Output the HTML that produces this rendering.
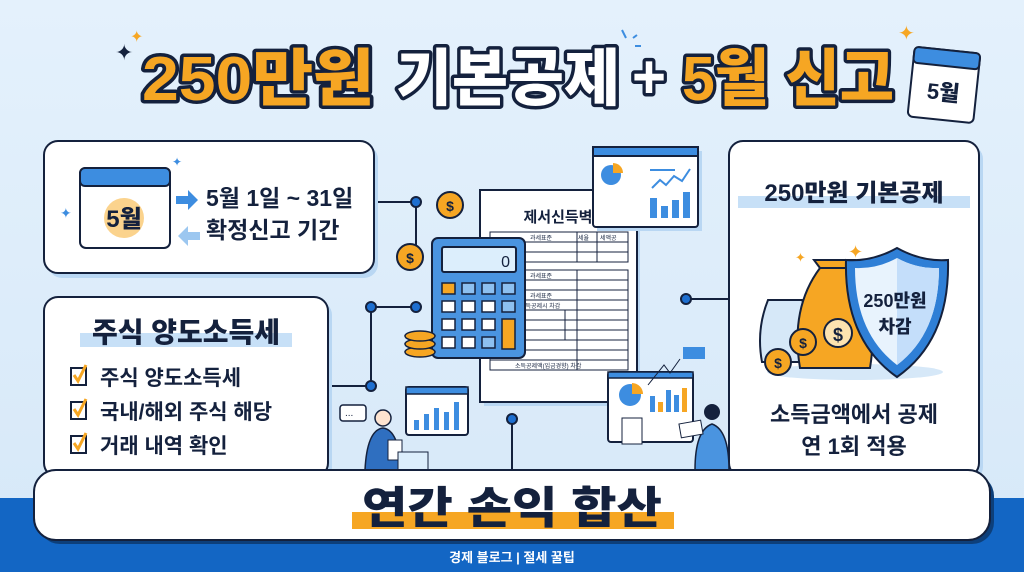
<!DOCTYPE html>
<html><head><meta charset="utf-8"><style>
body{margin:0;width:1024px;height:572px;overflow:hidden;background:#dcecfa;font-family:"Liberation Sans","Noto Sans CJK KR",sans-serif;}
</style></head><body>
<svg width="1024" height="572" viewBox="0 0 1024 572" xmlns="http://www.w3.org/2000/svg" style="position:absolute;left:0;top:0;font-family:'Liberation Sans','Noto Sans CJK KR',sans-serif">
<defs><linearGradient id="bg" x1="0" y1="0" x2="0" y2="1"><stop offset="0" stop-color="#e4f1fc"/><stop offset="1" stop-color="#d6e8f8"/></linearGradient></defs>
<rect width="1024" height="572" fill="url(#bg)"/>
<rect y="498" width="1024" height="74" fill="#1366c4"/>
<!-- Title -->
<g font-size="62" font-weight="900" stroke="#14213d" stroke-width="7" paint-order="stroke" stroke-linejoin="round" lengthAdjust="spacingAndGlyphs">
<text x="142" y="100" fill="#f6a623" textLength="232" lengthAdjust="spacingAndGlyphs">250만원</text>
<text x="396" y="100" fill="#ffffff" textLength="224" lengthAdjust="spacingAndGlyphs">기본공제</text>
<text x="632" y="98" fill="#ffffff" textLength="34" lengthAdjust="spacingAndGlyphs">+</text>
<text x="682" y="100" fill="#f6a623" textLength="212" lengthAdjust="spacingAndGlyphs">5월 신고</text>
</g>
<text x="115" y="60" font-size="22" fill="#14213d">✦</text>
<text x="130" y="42" font-size="16" fill="#f6a623">✦</text>
<text x="898" y="40" font-size="20" fill="#f6a623">✦</text>
<path d="M622 30 l4 8 M633 38 l4 -3 M635 46 l6 0" stroke="#3d8de0" stroke-width="2"/>
<!-- top calendar -->
<g transform="rotate(6 945 75)">
<rect x="912" y="50" width="66" height="70" rx="5" fill="#fff" stroke="#14213d" stroke-width="2"/>
<rect x="912" y="50" width="66" height="16" rx="4" fill="#3d8de0" stroke="#14213d" stroke-width="2"/>
<text x="945" y="100" text-anchor="middle" font-size="22" font-weight="900" fill="#14213d">5월</text>
</g>
<!-- connectors -->
<g stroke="#14213d" stroke-width="2" fill="none">
<path d="M374 202 H416 V257"/><path d="M416 307 H371 V386 H328"/><path d="M686 299 H729"/><path d="M512 419 V470"/>
</g>
<g fill="#1e6fd0" stroke="#14213d" stroke-width="2"><circle cx="416" cy="202" r="5"/><circle cx="416" cy="307" r="5"/><circle cx="371" cy="307" r="5"/><circle cx="371" cy="386" r="5"/><circle cx="512" cy="419" r="5"/><circle cx="686" cy="299" r="5"/></g>
<!-- left box 1 -->
<rect x="48" y="145" width="330" height="133" rx="14" fill="#b9d7f3"/>
<rect x="44" y="141" width="330" height="132" rx="14" fill="#fff" stroke="#14213d" stroke-width="2"/>
<rect x="80" y="168" width="90" height="80" rx="6" fill="#fff" stroke="#14213d" stroke-width="2"/>
<rect x="80" y="168" width="90" height="18" rx="5" fill="#3d8de0" stroke="#14213d" stroke-width="2"/>
<circle cx="124" cy="218" r="20" fill="#fbd38d"/>
<text x="124" y="227" text-anchor="middle" font-size="24" font-weight="900" fill="#14213d">5월</text>
<text x="60" y="218" font-size="14" fill="#3d8de0">✦</text>
<text x="172" y="166" font-size="12" fill="#3d8de0">✦</text>
<path d="M176 196 h12 v-6 l10 10 l-10 10 v-6 h-12z" fill="#3d8de0"/>
<path d="M200 232 h-12 v-6 l-10 10 l10 10 v-6 h12z" fill="#9cc7f0"/>
<text x="206" y="206" font-size="23" font-weight="600" fill="#14213d">5월 1일 ~ 31일</text>
<text x="206" y="238" font-size="23" font-weight="600" fill="#14213d">확정신고 기간</text>
<!-- left box 2 -->
<rect x="48" y="301" width="284" height="180" rx="14" fill="#b9d7f3"/>
<rect x="44" y="297" width="284" height="180" rx="14" fill="#fff" stroke="#14213d" stroke-width="2"/>
<rect x="80" y="333" width="212" height="14" fill="#c7e0f7"/>
<text x="186" y="342" text-anchor="middle" font-size="28" font-weight="900" fill="#14213d">주식 양도소득세</text>
<g font-size="21" font-weight="600" fill="#14213d">
<rect x="71" y="368" width="15" height="17" fill="none" stroke="#14213d" stroke-width="2"/><path d="M74 375 l4 6 l8 -16" stroke="#f6a623" stroke-width="3" fill="none"/>
<text x="100" y="385">주식 양도소득세</text>
<rect x="71" y="402" width="15" height="17" fill="none" stroke="#14213d" stroke-width="2"/><path d="M74 409 l4 6 l8 -16" stroke="#f6a623" stroke-width="3" fill="none"/>
<text x="100" y="419">국내/해외 주식 해당</text>
<rect x="71" y="436" width="15" height="17" fill="none" stroke="#14213d" stroke-width="2"/><path d="M74 443 l4 6 l8 -16" stroke="#f6a623" stroke-width="3" fill="none"/>
<text x="100" y="453">거래 내역 확인</text>
</g>
<!-- right box -->
<rect x="733" y="145" width="250" height="336" rx="14" fill="#b9d7f3"/>
<rect x="729" y="141" width="250" height="336" rx="14" fill="#fff" stroke="#14213d" stroke-width="2"/>
<rect x="738" y="196" width="232" height="12" fill="#c7e0f7"/>
<text x="854" y="201" text-anchor="middle" font-size="24" font-weight="900" fill="#14213d">250만원 기본공제</text>
<ellipse cx="855" cy="372" rx="88" ry="8" fill="#d6e8f8"/>
<path d="M768 300 q-12 30 -6 62 h50 q6 -35 -10 -62z" fill="#d6e8f8" stroke="#14213d" stroke-width="2"/>
<path d="M820 268 q-30 40 -20 100 h70 q10 -60 -22 -100z" fill="#f6a623" stroke="#14213d" stroke-width="2"/>
<path d="M820 268 l-6 -8 h40 l-6 8z" fill="#f6a623" stroke="#14213d" stroke-width="2"/>
<circle cx="838" cy="333" r="14" fill="#fde3b0" stroke="#14213d" stroke-width="2"/><text x="838" y="341" text-anchor="middle" font-size="18" font-weight="700" fill="#14213d">$</text>
<circle cx="778" cy="362" r="13" fill="#f6a623" stroke="#14213d" stroke-width="2"/><text x="778" y="368" text-anchor="middle" font-size="14" font-weight="700" fill="#14213d">$</text>
<circle cx="803" cy="342" r="13" fill="#f6a623" stroke="#14213d" stroke-width="2"/><text x="803" y="348" text-anchor="middle" font-size="14" font-weight="700" fill="#14213d">$</text>
<path d="M897 248 q25 14 51 12 q2 80 -51 117 q-53 -37 -51 -117 q26 2 51 -12z" fill="#2f7fd6" stroke="#14213d" stroke-width="2"/>
<path d="M897 258 q20 11 42 10 q0 65 -42 97 q-42 -32 -42 -97 q22 1 42 -10z" fill="#e8f3fd"/>
<path d="M897 258 q20 11 42 10 q0 65 -42 97z" fill="#c4defa"/>
<text x="895" y="307" text-anchor="middle" font-size="18" font-weight="900" fill="#14213d">250만원</text>
<text x="895" y="333" text-anchor="middle" font-size="18" font-weight="900" fill="#14213d">차감</text>
<text x="848" y="258" font-size="18" fill="#f6a623">✦</text>
<text x="795" y="262" font-size="13" fill="#f6a623">✦</text>
<text x="854" y="422" text-anchor="middle" font-size="22" font-weight="600" fill="#14213d">소득금액에서 공제</text>
<text x="854" y="454" text-anchor="middle" font-size="22" font-weight="600" fill="#14213d">연 1회 적용</text>
<!-- document -->
<rect x="484" y="194" width="156" height="212" fill="#b9d7f3"/>
<path d="M480 190 H608 L637 219 V402 H480z" fill="#fff" stroke="#14213d" stroke-width="2"/>
<path d="M608 190 V219 H637z" fill="#3d8de0" stroke="#14213d" stroke-width="2"/>
<text x="558" y="222" text-anchor="middle" font-size="15" font-weight="700" fill="#14213d">제서신득벽</text>
<g stroke="#14213d" stroke-width="1" fill="none">
<rect x="490" y="232" width="138" height="30"/><path d="M490 242 H628 M490 252 H628 M577 232 V262 M597 232 V262"/>
<rect x="490" y="270" width="138" height="100"/><path d="M490 280 H628 M490 290 H628 M490 300 H628 M490 310 H628 M490 320 H628 M490 330 H628 M490 340 H628 M490 350 H628 M490 360 H628 M577 270 V370 M565 310 V340"/>
</g>
<g font-size="6" fill="#14213d"><text x="530" y="240">과세표준</text><text x="578" y="240">세율</text><text x="600" y="240">세액공</text><text x="530" y="278">과세표준</text><text x="530" y="298">과세표준</text><text x="520" y="308">소득공제시 차감</text><text x="515" y="368">소득공제액(입금경향) 차감</text></g>
<!-- top chart window -->
<rect x="597" y="151" width="105" height="80" fill="#b9d7f3"/>
<rect x="593" y="147" width="105" height="80" rx="3" fill="#fff" stroke="#14213d" stroke-width="2"/>
<rect x="593" y="147" width="105" height="9" fill="#3d8de0" stroke="#14213d" stroke-width="2"/>
<circle cx="611" cy="175" r="10" fill="#3d8de0"/><path d="M613 163 a10 10 0 0 1 10 10 h-10z" fill="#f6a623"/>
<path d="M650 170 h25 M652 188 l8 -8 l6 5 l8 -9 l8 5 l8 -12" stroke="#3d8de0" stroke-width="2" fill="none"/>
<g fill="#3d8de0"><rect x="650" y="198" width="7" height="20"/><rect x="661" y="206" width="7" height="12"/><rect x="672" y="200" width="7" height="18"/><rect x="683" y="192" width="7" height="26"/></g>
<!-- calculator -->
<rect x="432" y="238" width="93" height="120" rx="6" fill="#4a94e0" stroke="#14213d" stroke-width="2"/>
<rect x="442" y="247" width="74" height="25" rx="2" fill="#dceefc" stroke="#14213d" stroke-width="2"/>
<text x="510" y="267" text-anchor="end" font-size="16" fill="#14213d">0</text>
<g stroke="#14213d" stroke-width="1.5">
<rect x="442" y="283" width="13" height="11" fill="#f6a623"/><rect x="462" y="283" width="13" height="11" fill="#8dc0f0"/><rect x="482" y="283" width="13" height="11" fill="#8dc0f0"/><rect x="502" y="283" width="13" height="11" fill="#8dc0f0"/>
<rect x="442" y="301" width="13" height="11" fill="#fff"/><rect x="462" y="301" width="13" height="11" fill="#fff"/><rect x="482" y="301" width="13" height="11" fill="#fff"/><rect x="502" y="301" width="13" height="11" fill="#8dc0f0"/>
<rect x="442" y="319" width="13" height="11" fill="#fff"/><rect x="462" y="319" width="13" height="11" fill="#fff"/><rect x="482" y="319" width="13" height="11" fill="#fff"/><rect x="502" y="319" width="13" height="30" fill="#f6a623"/>
<rect x="442" y="337" width="13" height="11" fill="#fff"/><rect x="462" y="337" width="13" height="11" fill="#fff"/><rect x="482" y="337" width="13" height="11" fill="#8dc0f0"/>
</g>
<g fill="#f6a623" stroke="#14213d" stroke-width="1.5"><ellipse cx="420" cy="352" rx="15" ry="5"/><ellipse cx="420" cy="344" rx="15" ry="5"/><ellipse cx="420" cy="336" rx="15" ry="5"/></g>
<circle cx="450" cy="205" r="13" fill="#f6a623" stroke="#14213d" stroke-width="2"/><text x="450" y="211" text-anchor="middle" font-size="14" font-weight="700" fill="#14213d">$</text>
<circle cx="410" cy="257" r="13" fill="#f6a623" stroke="#14213d" stroke-width="2"/><text x="410" y="263" text-anchor="middle" font-size="14" font-weight="700" fill="#14213d">$</text>
<!-- woman chart -->
<rect x="406" y="387" width="62" height="48" rx="3" fill="#fff" stroke="#14213d" stroke-width="2"/>
<rect x="406" y="387" width="62" height="7" fill="#3d8de0" stroke="#14213d" stroke-width="1.5"/>
<g fill="#3d8de0"><rect x="414" y="420" width="5" height="10"/><rect x="424" y="414" width="5" height="16"/><rect x="434" y="408" width="5" height="22"/><rect x="444" y="412" width="5" height="18"/><rect x="454" y="402" width="5" height="28"/></g>
<rect x="340" y="405" width="26" height="16" rx="3" fill="#fff" stroke="#14213d" stroke-width="1.5"/><text x="345" y="416" font-size="10" fill="#14213d">...</text>
<circle cx="383" cy="418" r="8" fill="#fde3d0" stroke="#14213d" stroke-width="1.5"/>
<path d="M365 470 q2 -40 18 -42 q16 2 18 42z" fill="#2f6fc0" stroke="#14213d" stroke-width="1.5"/>
<rect x="388" y="440" width="14" height="20" fill="#fff" stroke="#14213d" stroke-width="1"/>
<rect x="398" y="452" width="30" height="18" fill="#dceefc" stroke="#14213d" stroke-width="1"/>
<!-- right chart -->
<rect x="608" y="372" width="85" height="70" rx="3" fill="#fff" stroke="#14213d" stroke-width="2"/>
<rect x="608" y="372" width="85" height="6" fill="#3d8de0" stroke="#14213d" stroke-width="1.5"/>
<circle cx="630" cy="395" r="11" fill="#3d8de0"/><path d="M632 383 a11 11 0 0 1 11 11 h-11z" fill="#f6a623"/>
<g><rect x="650" y="396" width="5" height="16" fill="#3d8de0"/><rect x="658" y="402" width="5" height="10" fill="#f6a623"/><rect x="666" y="390" width="5" height="22" fill="#3d8de0"/><rect x="674" y="395" width="5" height="17" fill="#3d8de0"/><rect x="682" y="388" width="5" height="24" fill="#f6a623"/></g>
<rect x="622" y="418" width="20" height="26" fill="#fff" stroke="#14213d" stroke-width="1"/>
<path d="M648 385 l16 -20 l6 8 l10 -14" stroke="#14213d" fill="none"/>
<rect x="683" y="347" width="22" height="12" fill="#3d8de0"/>
<circle cx="712" cy="412" r="8" fill="#14213d"/>
<path d="M695 470 q0 -40 17 -46 q17 6 17 46z" fill="#4a94e0" stroke="#14213d" stroke-width="1.5"/>
<rect x="680" y="422" width="22" height="14" fill="#fff" stroke="#14213d" stroke-width="1" transform="rotate(-10 691 429)"/>
<!-- bottom bar -->
<rect x="38" y="474" width="956" height="70" rx="22" fill="#0d3f7a"/>
<rect x="34" y="470" width="956" height="70" rx="22" fill="#fff" stroke="#14213d" stroke-width="2"/>
<rect x="352" y="512" width="322" height="17" fill="#f6a623"/>
<text x="512" y="523" text-anchor="middle" font-size="44" font-weight="900" fill="#14213d" textLength="300" lengthAdjust="spacingAndGlyphs">연간 손익 합산</text>
<text x="512" y="562" text-anchor="middle" font-size="13" font-weight="600" fill="#fff">경제 블로그 | 절세 꿀팁</text>
</svg>
</body></html>
